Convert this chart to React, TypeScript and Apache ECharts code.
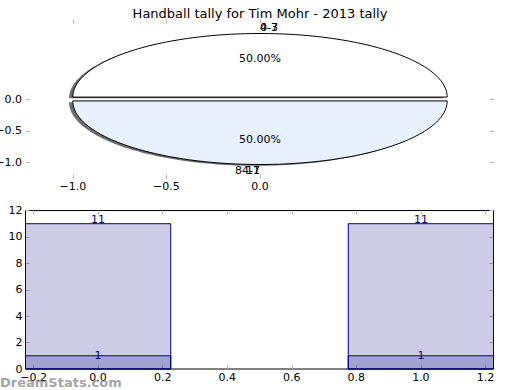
import React, { useEffect, useRef } from "react";
import * as echarts from "echarts";

const chartTitle = "Handball tally for Tim Mohr - 2013 tally";
const sliceLabels = ["0-3", "8-11"];
const sliceOverlapLabels = ["4-7", "4-7"];
const sliceValues = [50, 50];
const pieTickValues = [-1, -0.5, 0];
const barPositions = [0, 1];
const tallCounts = [11, 11];
const shortCounts = [1, 1];
const barXTickValues = [-0.2, 0, 0.2, 0.4, 0.6, 0.8, 1.0, 1.2];
const watermarkText = "DreamStats.com";

const FONT = "DejaVu Sans";
const fmt1 = (v: number) => (v < 0 ? "\u2212" : "") + Math.abs(v).toFixed(1);
const TICK_COLOR = "#b4b4b4";

export default function App() {
  const ref = useRef<HTMLDivElement>(null);
  useEffect(() => {
    const chart = echarts.init(ref.current!, null, { renderer: "svg" });
    const total = sliceValues.reduce((a, b) => a + b, 0);
    const starts: number[] = [];
    let acc = 0;
    sliceValues.forEach((v) => {
      starts.push(acc);
      acc += v;
    });
    const explode = 0.03;
    const shadowOff = -0.02;
    const sliceColors = ["#ffffff", "#eaf1fe"];

    const txt = (s: string, p: number[], al: string, dy = 0) => ({
      type: "text",
      x: p[0],
      y: p[1] + dy,
      z2: 20,
      style: {
        text: s,
        fill: "#000",
        font: `11px "${FONT}"`,
        align: al,
        verticalAlign: "middle",
      },
    });

    const renderSlice = (params: any, api: any) => {
      const i = params.dataIndex;
      const a0 = (starts[i] / total) * 2 * Math.PI;
      const a1 = ((starts[i] + sliceValues[i]) / total) * 2 * Math.PI;
      const mid = (a0 + a1) / 2;
      const cx = explode * Math.cos(mid);
      const cy = explode * Math.sin(mid);
      const pts = (dx: number, dy: number) => {
        const out = [api.coord([cx + dx, cy + dy])];
        const n = 120;
        for (let k = 0; k <= n; k++) {
          const t = a0 + ((a1 - a0) * k) / n;
          out.push(api.coord([cx + dx + Math.cos(t), cy + dy + Math.sin(t)]));
        }
        return out;
      };
      const pctPos = api.coord([cx + 0.6 * Math.cos(mid), cy + 0.6 * Math.sin(mid)]);
      const lblPos = api.coord([cx + 1.1 * Math.cos(mid), cy + 1.1 * Math.sin(mid)]);
      const align = Math.cos(mid) > 0 ? "left" : "right";
      const pct = ((sliceValues[i] / total) * 100).toFixed(2) + "%";
      return {
        type: "group",
        children: [
          {
            type: "polygon",
            z2: 0,
            shape: { points: pts(shadowOff, shadowOff) },
            style: { fill: "rgba(60,60,60,0.75)" },
          },
          {
            type: "polygon",
            z2: 10,
            shape: { points: pts(0, 0) },
            style: { fill: sliceColors[i], stroke: "#000", lineWidth: 1 },
          },
          txt(pct, pctPos, "center"),
          txt(sliceLabels[i], lblPos, align),
          txt(sliceOverlapLabels[i], lblPos, align),
        ],
      };
    };

    const barHalf = 0.225;
    const makeBarRender = (labelDy: number) => (params: any, api: any) => {
      const x = api.value(0);
      const h = api.value(1);
      const p0 = api.coord([x - barHalf, h]);
      const p1 = api.coord([x + barHalf, 0]);
      const top = api.coord([x, h]);
      return {
        type: "group",
        children: [
          {
            type: "rect",
            z2: 5,
            shape: { x: p0[0], y: p0[1], width: p1[0] - p0[0], height: p1[1] - p0[1] },
            style: { fill: "rgba(0,0,128,0.2)", stroke: "#000080", lineWidth: 1 },
          },
          {
            type: "text",
            x: top[0],
            y: top[1] + labelDy,
            z2: 20,
            style: {
              text: String(h),
              fill: "#000080",
              font: `11px "${FONT}"`,
              align: "center",
              verticalAlign: "middle",
            },
          },
        ],
      };
    };

    const labelStyle = { color: "#000", fontSize: 11, fontFamily: FONT };
    const tickStyle = { inside: true, length: 4, lineStyle: { color: TICK_COLOR, width: 1 } };
    const hiddenLine = { show: false, onZero: false };

    chart.setOption({
      animation: false,
      title: {
        text: chartTitle,
        left: "center",
        top: 2,
        textStyle: { fontSize: 13, fontWeight: "normal", fontFamily: FONT, color: "#000" },
      },
      grid: [
        { left: 26, right: 26, top: 19.5, height: 159, outerBoundsMode: "none", containLabel: false },
        {
          left: 25.5,
          right: 26.5,
          top: 210.5,
          height: 158.5,
          show: true,
          borderColor: "#000",
          borderWidth: 1,
          backgroundColor: "transparent",
          outerBoundsMode: "none",
          containLabel: false,
        },
      ],
      xAxis: [
        {
          gridIndex: 0,
          type: "value",
          min: -1.25,
          max: 1.25,
          position: "bottom",
          axisLine: hiddenLine,
          splitLine: { show: false },
          axisTick: { ...tickStyle, customValues: pieTickValues },
          axisLabel: { ...labelStyle, customValues: pieTickValues, formatter: fmt1, margin: 2 },
        },
        {
          gridIndex: 0,
          type: "value",
          min: -1.25,
          max: 1.25,
          position: "top",
          axisLine: hiddenLine,
          splitLine: { show: false },
          axisTick: { ...tickStyle, customValues: pieTickValues },
          axisLabel: { show: false },
        },
        {
          gridIndex: 1,
          type: "value",
          min: -0.225,
          max: 1.225,
          position: "bottom",
          axisLine: hiddenLine,
          splitLine: { show: false },
          axisTick: { ...tickStyle, customValues: barXTickValues },
          axisLabel: { ...labelStyle, customValues: barXTickValues, formatter: fmt1, margin: 3 },
        },
        {
          gridIndex: 1,
          type: "value",
          min: -0.225,
          max: 1.225,
          position: "top",
          axisLine: hiddenLine,
          splitLine: { show: false },
          axisTick: { ...tickStyle, customValues: barXTickValues },
          axisLabel: { show: false },
        },
      ],
      yAxis: [
        {
          gridIndex: 0,
          type: "value",
          min: -1.25,
          max: 1.25,
          position: "left",
          axisLine: hiddenLine,
          splitLine: { show: false },
          axisTick: { ...tickStyle, customValues: pieTickValues },
          axisLabel: { ...labelStyle, customValues: pieTickValues, formatter: fmt1, margin: 4 },
        },
        {
          gridIndex: 0,
          type: "value",
          min: -1.25,
          max: 1.25,
          position: "right",
          axisLine: hiddenLine,
          splitLine: { show: false },
          axisTick: { ...tickStyle, customValues: pieTickValues },
          axisLabel: { show: false },
        },
        {
          gridIndex: 1,
          type: "value",
          min: 0,
          max: 12,
          interval: 2,
          position: "left",
          axisLine: hiddenLine,
          splitLine: { show: false },
          axisTick: { ...tickStyle },
          axisLabel: { ...labelStyle, margin: 3 },
        },
        {
          gridIndex: 1,
          type: "value",
          min: 0,
          max: 12,
          interval: 2,
          position: "right",
          axisLine: hiddenLine,
          splitLine: { show: false },
          axisTick: { ...tickStyle },
          axisLabel: { show: false },
        },
      ],
      graphic: [
        {
          type: "text",
          left: 0,
          top: 376,
          z: 100,
          style: {
            text: watermarkText,
            fill: "rgba(110,110,110,0.65)",
            font: `bold 13px "${FONT}"`,
          },
        },
      ],
      series: [
        {
          type: "custom",
          xAxisIndex: 0,
          yAxisIndex: 0,
          clip: false,
          renderItem: renderSlice,
          data: sliceValues.map((v, i) => ({ value: [0, 0, v], name: sliceLabels[i] })),
        },
        {
          type: "custom",
          xAxisIndex: 2,
          yAxisIndex: 2,
          renderItem: makeBarRender(-4),
          data: barPositions.map((x, i) => [x, tallCounts[i]]),
        },
        {
          type: "custom",
          xAxisIndex: 2,
          yAxisIndex: 2,
          renderItem: makeBarRender(0),
          data: barPositions.map((x, i) => [x, shortCounts[i]]),
        },
      ],
    });
    return () => chart.dispose();
  }, []);
  return (
    <div
      ref={ref}
      style={{ position: "fixed", left: 0, top: 0, width: 520, height: 390, background: "#fff" }}
    />
  );
}
